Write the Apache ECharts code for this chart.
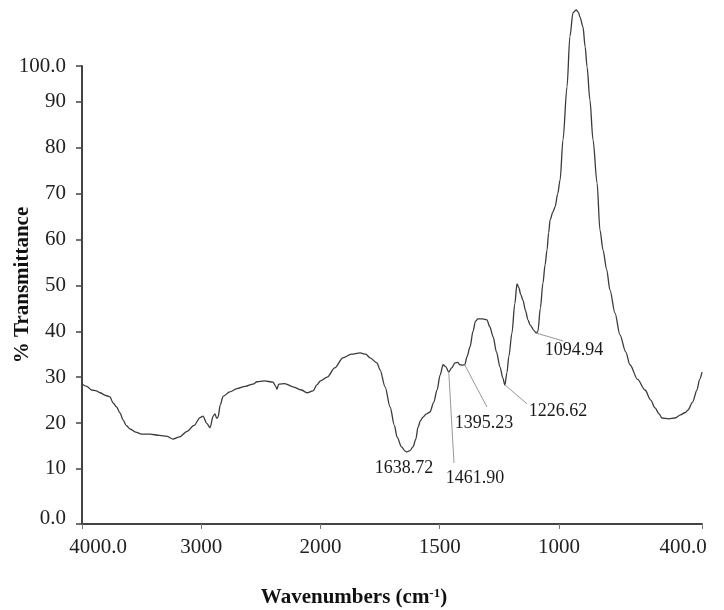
<!DOCTYPE html>
<html>
<head>
<meta charset="utf-8">
<script src="https://cdn.jsdelivr.net/npm/echarts@6.0.0/dist/echarts.min.js"></script>
<style>
html, body { margin: 0; padding: 0; background: #fff; }
#main { width: 724px; height: 610px; }
</style>
</head>
<body>
<div id="main"></div>
<script>
// spectrum (cm-1, %T)
var wavenumbers = [4000, 3960, 3920, 3880, 3850, 3800, 3765, 3740, 3710, 3681, 3656, 3630, 3597, 3550, 3500, 3430, 3350, 3287, 3237, 3180,
    3119, 3060, 3010, 2985, 2955, 2926, 2900, 2885, 2870, 2859, 2840, 2817, 2760, 2700, 2630, 2566, 2532, 2470, 2398, 2375,
    2365, 2350, 2300, 2230, 2160, 2113, 2063, 2030, 2000, 1972, 1940, 1906, 1870, 1834, 1810, 1792, 1763, 1750, 1729, 1708,
    1690, 1679, 1660, 1645, 1637, 1625, 1612, 1600, 1591, 1580, 1570, 1555, 1541, 1525, 1511, 1498, 1486, 1475, 1461.9, 1450,
    1436, 1425, 1415, 1405, 1395, 1385, 1373, 1360, 1350, 1340, 1320, 1302, 1290, 1276, 1262, 1247, 1235, 1226.6, 1218, 1210,
    1197, 1185, 1176, 1168, 1160, 1151, 1140, 1130, 1121, 1105, 1095, 1088, 1078, 1067, 1058, 1050, 1043, 1037, 1025, 1016,
    1005, 995, 983, 966, 954, 941, 928, 918, 912, 899, 890, 882, 870, 857, 840, 828, 815, 800, 786, 765,
    744, 720, 702, 670, 639, 615, 597, 580, 568, 540, 513, 490, 470, 459, 440, 421, 410, 400];
var transmittance = [28.5, 28.0, 27.2, 27.0, 26.6, 26.0, 25.7, 24.4, 23.5, 22.2, 20.7, 19.5, 18.7, 18.0, 17.6, 17.6, 17.3, 17.1, 16.5, 17.0,
    18.2, 19.5, 21.2, 21.5, 20.0, 19.0, 21.5, 22.0, 21.0, 21.3, 24.0, 25.8, 26.8, 27.5, 28.0, 28.5, 29.0, 29.2, 28.9, 28.0,
    27.4, 28.5, 28.6, 27.9, 27.2, 26.6, 27.0, 28.3, 29.2, 30.0, 32.0, 34.2, 35.0, 35.3, 35.0, 34.2, 33.1, 31.6, 27.9, 23.5,
    19.5, 17.0, 14.8, 13.9, 13.7, 14.0, 14.8, 16.5, 19.1, 20.6, 21.3, 22.0, 22.4, 24.5, 27.2, 30.5, 32.7, 32.3, 31.1, 32.0,
    33.1, 33.2, 32.7, 32.6, 32.7, 34.5, 36.6, 40.0, 42.2, 42.7, 42.7, 42.5, 41.0, 38.8, 35.5, 32.2, 29.8, 28.3, 31.0, 34.5,
    39.6, 46.0, 50.3, 49.5, 48.0, 46.8, 44.5, 42.5, 41.4, 40.2, 39.6, 40.0, 45.0, 50.5, 54.5, 57.7, 61.5, 64.3, 66.0, 67.1,
    70.0, 73.0, 81.7, 93.3, 104.2, 109.4, 110.0, 109.5, 108.5, 106.3, 102.0, 97.6, 90.4, 81.7, 72.3, 62.1, 57.7, 53.5, 49.0, 44.0,
    39.2, 35.5, 32.7, 29.5, 27.2, 25.0, 23.3, 22.0, 21.1, 20.9, 21.1, 21.8, 22.3, 22.8, 24.5, 27.2, 29.5, 31.1];

// ticks
var xTicks = [4000, 3000, 2000, 1500, 1000, 400];
var yTicks = [10, 20, 30, 40, 50, 60, 70, 80, 90];
var yMin = -2, yMax = 97.8;

// labelled peaks
var peakNames = ['1638.72', '1461.90', '1395.23', '1226.62', '1094.94'];
var peakWave = [1638.72, 1461.90, 1395.23, 1226.62, 1094.94];
var peakValue = [13.7, 31.1, 32.7, 28.3, 39.6];

// where the leader lines end and the labels sit (wavenumber, %T)
var leaderEnd = [null, [1440, 11.3], [1302, 23.5], [1134, 24.2], [983, 37.9]];
var labelAt = [[1650, 10.2], [1352, 8.0], [1314, 20.0], [1004, 22.6], [937, 35.9]];

// x axis is expanded 2x below 2000 cm-1
function toX(w) {
    return w >= 2000 ? 4000 - w : 2000 + (2000 - w) * 2;
}
function fromX(x) {
    return x <= 2000 ? 4000 - x : 2000 - (x - 2000) / 2;
}

var serif = "'Liberation Serif', 'DejaVu Serif', serif";

var spectrum = wavenumbers.map(function (w, i) { return [toX(w), transmittance[i]]; });

var leaders = [];
var labels = [];
peakNames.forEach(function (name, i) {
    if (leaderEnd[i]) {
        leaders.push([
            { coord: [toX(peakWave[i]), peakValue[i]] },
            { coord: [toX(leaderEnd[i][0]), leaderEnd[i][1]] }
        ]);
    }
    labels.push({ name: name, value: [toX(labelAt[i][0]), labelAt[i][1]] });
});

var option = {
    animation: false,
    backgroundColor: '#fff',
    grid: {
        left: 82,
        right: 22,
        top: 66,
        bottom: 86,
        containLabel: false,
        outerBoundsMode: 'none'
    },
    xAxis: {
        type: 'value',
        min: 0,
        max: toX(400),
        name: '{t|Wavenumbers (cm}{s|-1}{t|)}',
        nameLocation: 'middle',
        nameGap: 63,
        nameMoveOverlap: false,
        nameTextStyle: {
            padding: [0, 76, 0, 0],
            rich: {
                t: { fontFamily: serif, fontSize: 21, fontWeight: 'bold', color: '#111' },
                s: { fontFamily: serif, fontSize: 13, fontWeight: 'bold', color: '#111', verticalAlign: 'top' }
            }
        },
        axisLine: { onZero: false, lineStyle: { color: '#444', width: 2 } },
        axisTick: {
            show: true,
            length: 5,
            customValues: xTicks.map(toX),
            lineStyle: { color: '#777', width: 1 }
        },
        axisLabel: {
            customValues: xTicks.map(toX),
            fontFamily: serif,
            fontSize: 21,
            color: '#222',
            margin: 13,
            formatter: function (v) {
                var w = Math.round(fromX(v));
                if (w === 4000) return '{a|4000.0}';
                if (w === 400) return '{b|400.0}';
                return String(w);
            },
            rich: {
                a: { fontFamily: serif, fontSize: 21, color: '#222', padding: [0, 0, 0, 32] },
                b: { fontFamily: serif, fontSize: 21, color: '#222', padding: [0, 38, 0, 0] }
            }
        },
        splitLine: { show: false }
    },
    yAxis: {
        type: 'value',
        min: yMin,
        max: yMax,
        name: '% Transmittance',
        nameLocation: 'middle',
        nameRotate: 90,
        nameGap: 49,
        nameMoveOverlap: false,
        nameTextStyle: {
            fontFamily: serif,
            fontSize: 21,
            fontWeight: 'bold',
            color: '#111',
            padding: [0, 0, 0, 20]
        },
        axisLine: { show: true, lineStyle: { color: '#444', width: 2 } },
        axisTick: {
            show: true,
            length: 6,
            customValues: [yMin].concat(yTicks, [yMax]),
            lineStyle: { color: '#444', width: 1.5 }
        },
        axisLabel: {
            customValues: [yMin].concat(yTicks, [yMax]),
            fontFamily: serif,
            fontSize: 21,
            color: '#222',
            margin: 16,
            formatter: function (v) {
                if (v === yMin) return '{z|0.0}';
                if (v === yMax) return '100.0';
                return String(v);
            },
            rich: {
                z: { fontFamily: serif, fontSize: 21, color: '#222', padding: [0, 0, 12, 0] }
            }
        },
        splitLine: { show: false }
    },
    series: [
        {
            name: 'spectrum',
            type: 'line',
            data: spectrum,
            showSymbol: false,
            smooth: 0.3,
            smoothMonotone: 'x',
            clip: false,
            lineStyle: { color: '#3a3a3a', width: 1.3 },
            markLine: {
                silent: true,
                symbol: 'none',
                animation: false,
                label: { show: false },
                lineStyle: { color: '#999', width: 1, type: 'solid' },
                data: leaders
            }
        },
        {
            name: 'peaks',
            type: 'scatter',
            data: labels,
            symbolSize: 2,
            clip: false,
            silent: true,
            itemStyle: { color: 'rgba(0,0,0,0)', opacity: 1 },
            label: {
                show: true,
                position: 'inside',
                formatter: '{b}',
                fontFamily: serif,
                fontSize: 18,
                color: '#1a1a1a',
                textBorderWidth: 0,
                textBorderColor: 'transparent'
            },
            labelLayout: { hideOverlap: false }
        }
    ]
};

var chart = echarts.init(document.getElementById('main'));
chart.setOption(option);
</script>
</body>
</html>
